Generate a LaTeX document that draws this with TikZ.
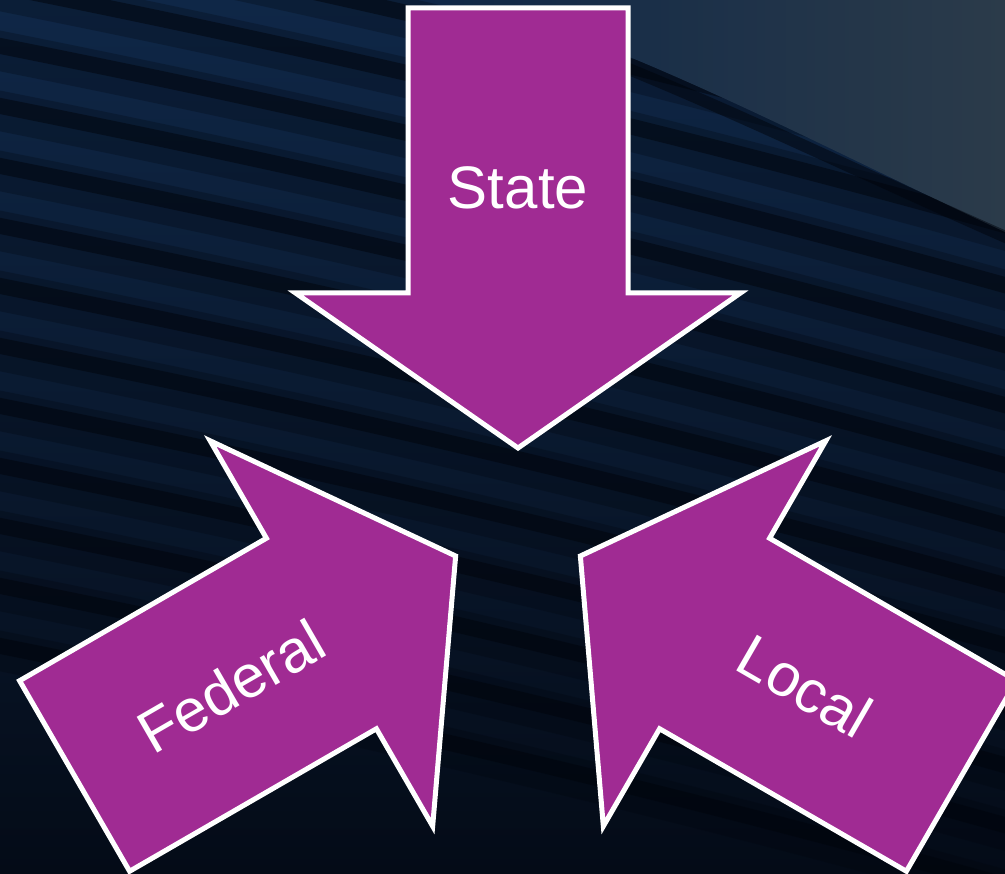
\documentclass[tikz,border=0pt]{standalone}
\usepackage{fontspec}
\setmainfont{Liberation Sans}

\definecolor{bgtop}{HTML}{0F2747}
\definecolor{bgbot}{HTML}{040B17}
\definecolor{navydark}{HTML}{01040B}
\definecolor{slate}{HTML}{2B3B4A}
\definecolor{plum}{HTML}{A02B93}

\tikzset{
  flow/.style={fill=plum, draw=white, line width=5pt, line join=miter},
  lbl/.style={text=white, inner sep=0pt, font=\fontsize{60}{64}\selectfont},
  ridge/.style={draw=navydark, line cap=round}
}

\begin{document}
\begin{tikzpicture}[x=1pt,y=-1pt]
\useasboundingbox (0,0) rectangle (1005,874);

\begin{scope}
\clip (0,0) rectangle (1005,874);
% backdrop
\shade[top color=bgtop, bottom color=bgbot] (0,0) rectangle (1005,874);
\foreach \o in {-180,-120,...,640} {
  \draw[ridge, line width=40pt, opacity=.25] (-30,\o+45) .. controls (300,\o+110) and (650,\o+190) .. (1040,\o+300);
  \draw[ridge, line width=16pt, opacity=.5] (-30,\o+40) .. controls (300,\o+105) and (650,\o+185) .. (1040,\o+295);
}
\shade[left color=bgtop, right color=slate] (420,0) -- (1005,0) -- (1005,232) .. controls (850,160) and (700,80) .. (540,22) -- cycle;
\draw[ridge, line width=12pt, opacity=.5] (1040,252) .. controls (850,170) and (700,92) .. (520,27);

% arrows
\foreach \ang in {-90,30,150}
  \draw[flow, shift={(518,520)}, rotate=\ang]
    (-72,0) -- (-227,222.5) -- (-227,110) -- (-512,110) -- (-512,-110) -- (-227,-110) -- (-227,-222.5) -- cycle;
\end{scope}

\node[lbl] (state) at (518,188) {State};
\node[lbl, rotate=30] (federal) at (231,686) {Federal};
\node[lbl, rotate=-30] (local) at (805,686) {Local};
\end{tikzpicture}
\end{document}
